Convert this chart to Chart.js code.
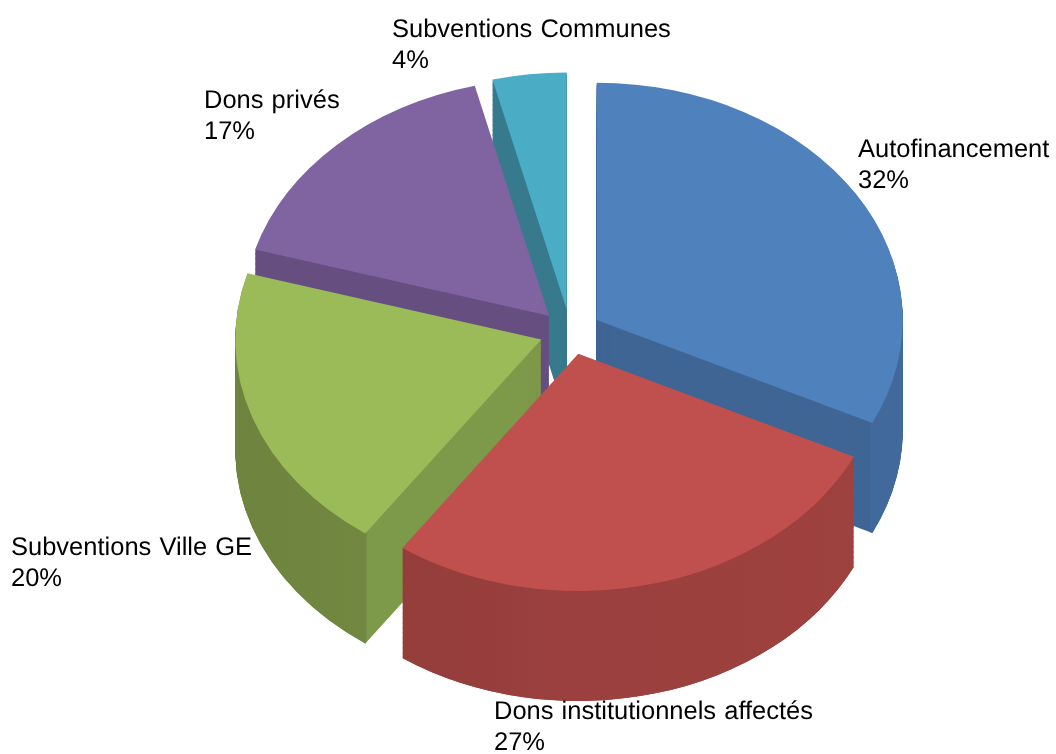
<!DOCTYPE html>
<html>
<head>
<meta charset="utf-8">
<title>Financement</title>
<style>
    html, body { margin: 0; padding: 0; background: #fff; }
    canvas { display: block; }
</style>
<script src="https://cdn.jsdelivr.net/npm/chart.js@4"></script>
</head>
<body>
<canvas id="myChart" width="1056" height="754"></canvas>
<script>
// slices, clockwise from 12 o'clock
const categories = ['Autofinancement', 'Dons institutionnels affectés', 'Subventions Ville GE', 'Dons privés', 'Subventions Communes'];
const shares = [32.15, 27.6, 19.75, 16.6, 3.9];
const percentLabels = ['32%', '27%', '20%', '17%', '4%'];

const topColors = ['#4F81BD', '#C0504D', '#9BBB59', '#8064A2', '#4BACC6'];
const cutColors = ['#3F6595', '#943D3B', '#7D994A', '#664F80', '#377A8D'];
const rimColors = [
    ['#3F6595', '#3F6595', '#42699B'],
    ['#8F3B39', '#9B403E', '#9E413F'],
    ['#6E843E', '#768D45', '#768D45'],
    ['#664F80', '#664F80', '#664F80'],
    ['#377A8D', '#377A8D', '#377A8D']
];

// painter's order: back slices first, red one last
const drawOrder = [4, 3, 0, 2, 1];

// look of the 3D pie
const tilt = 0.775;
const depth = 110;
const explode = 31;
const explodeSquash = 0.94;

// where each label starts: x, baseline of the first line
const labelAnchors = [[858, 157], [494, 719], [11, 555], [204, 108], [392, 37]];
const lineHeight = 31;

function paintArc(ctx, arc, color) {
    const saved = arc.options;
    arc.options = Object.assign({}, saved, {backgroundColor: color});
    arc.draw(ctx);
    arc.options = saved;
}

function placeArc(ctx, arc, shift) {
    const mid = (arc.startAngle + arc.endAngle) / 2;
    ctx.translate(0, arc.y + shift);
    ctx.scale(1, tilt);
    ctx.translate(Math.cos(mid) * explode, Math.sin(mid) * explode * explodeSquash - arc.y);
}

function rimGradient(ctx, arc, index) {
    const grad = ctx.createLinearGradient(arc.x - arc.outerRadius, 0, arc.x + arc.outerRadius, 0);
    grad.addColorStop(0, rimColors[index][0]);
    grad.addColorStop(0.5, rimColors[index][1]);
    grad.addColorStop(1, rimColors[index][2]);
    return grad;
}

function stackArc(ctx, arc, step, colorFn) {
    for (let d = depth; d > 0; d -= step) {
        ctx.save();
        placeArc(ctx, arc, d);
        paintArc(ctx, arc, colorFn());
        ctx.restore();
    }
}

function drawSlice(ctx, arc, index) {
    const cutColor = () => cutColors[index];
    const inner = arc.innerRadius;
    const outer = arc.outerRadius;

    //side walls, stacked from the bottom up (big steps keep the flat faces clean)
    stackArc(ctx, arc, 5, cutColor);

    //the tip again in fine steps, or its vertical edge comes out serrated
    arc.outerRadius = 14;
    stackArc(ctx, arc, 1, cutColor);
    arc.outerRadius = outer;

    //outer rim only, so it can shade differently from the cut faces
    arc.innerRadius = outer - 3;
    stackArc(ctx, arc, 1, () => rimGradient(ctx, arc, index));
    arc.innerRadius = inner;

    //top face
    ctx.save();
    placeArc(ctx, arc, 0);
    paintArc(ctx, arc, topColors[index]);
    ctx.restore();
}

const pie3d = {
    id: 'pie3d',
    beforeDatasetDraw(chart) {
        const arcs = chart.getDatasetMeta(0).data;
        drawOrder.forEach(function (i) {
            drawSlice(chart.ctx, arcs[i], i);
        });
        return false;
    },
    afterDraw(chart) {
        const ctx = chart.ctx;
        ctx.save();
        ctx.fillStyle = '#000';
        ctx.font = '25.5px "Liberation Sans"';
        ctx.textRendering = 'geometricPrecision';
        ctx.wordSpacing = '1px';
        ctx.textBaseline = 'alphabetic';
        categories.forEach(function (name, i) {
            ctx.fillText(name, labelAnchors[i][0], labelAnchors[i][1]);
            ctx.fillText(percentLabels[i], labelAnchors[i][0], labelAnchors[i][1] + lineHeight);
        });
        ctx.restore();
    }
};

new Chart(document.getElementById('myChart'), {
    type: 'pie',
    data: {
        labels: categories,
        datasets: [{
            data: shares,
            backgroundColor: topColors,
            borderWidth: 0
        }]
    },
    options: {
        responsive: false,
        animation: false,
        radius: 306,
        layout: {padding: {left: 85, bottom: 90}},
        plugins: {
            legend: {display: false},
            tooltip: {enabled: false}
        }
    },
    plugins: [pie3d]
});
</script>
</body>
</html>
